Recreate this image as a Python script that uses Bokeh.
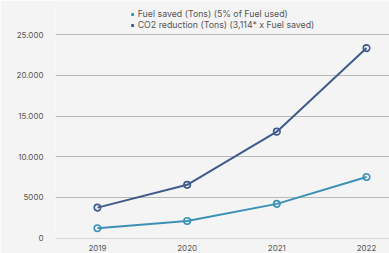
from bokeh.plotting import figure
from bokeh.models import Legend, LegendItem, FixedTicker, ColumnDataSource
from bokeh.embed import file_html
from bokeh.resources import INLINE

years = [2019, 2020, 2021, 2022]
fuel_saved = [1200, 2100, 4200, 7500]
co2_reduction = [3737, 6540, 13079, 23355]
y_ticks = [0, 5000, 10000, 15000, 20000, 25000]
y_tick_labels = ["0", "5000", "10.000", "15.000", "20.000", "25.000"]
series_names = ["Fuel saved (Tons) (5% of Fuel used)",
                "CO2 reduction (Tons) (3,114* x Fuel saved)"]

BG = "#f4f4f4"
C_FUEL = "#3a90b6"
C_CO2 = "#3f5a8c"
FONT = "Inter"

p = figure(width=389, height=253, output_backend="svg", toolbar_location=None,
           x_range=(2018.532, 2022.256), y_range=(-60, 29208),
           min_border_left=55, min_border_right=0, min_border_top=0,
           min_border_bottom=0)
p.background_fill_color = BG
p.border_fill_color = BG
p.outline_line_color = None

src = ColumnDataSource(dict(x=years, fuel=fuel_saved, co2=co2_reduction))

p.scatter("x", "fuel", source=src, size=6.5, line_color=C_FUEL, line_width=1.6, fill_color=BG)
p.scatter("x", "co2", source=src, size=6.5, line_color=C_CO2, line_width=1.6, fill_color=BG)
p.line("x", "fuel", source=src, line_color=C_FUEL, line_width=2)
p.line("x", "co2", source=src, line_color=C_CO2, line_width=2)

offscreen = ColumnDataSource(dict(x=[1900], y=[-99999]))
r1 = p.scatter("x", "y", source=offscreen, marker="square", size=4, color=C_FUEL)
r2 = p.scatter("x", "y", source=offscreen, marker="square", size=4, color=C_CO2)
legend = Legend(items=[LegendItem(label=series_names[0], renderers=[r1]),
                       LegendItem(label=series_names[1], renderers=[r2])],
                location="top_center", orientation="vertical")
legend.background_fill_alpha = 0
legend.border_line_color = None
legend.label_text_font = FONT
legend.label_text_font_size = "8.8px"
legend.label_text_color = "#555555"
legend.glyph_width = 5
legend.glyph_height = 8
legend.label_height = 8
legend.label_standoff = 3
legend.spacing = 0
legend.padding = 1
legend.margin = 8
p.add_layout(legend, "center")

p.xaxis.ticker = FixedTicker(ticks=years)
p.yaxis.ticker = FixedTicker(ticks=y_ticks)
p.yaxis.major_label_overrides = {t: l for t, l in zip(y_ticks, y_tick_labels)}
for ax in (p.xaxis, p.yaxis):
    ax.axis_line_color = None
    ax.major_tick_line_color = None
    ax.minor_tick_line_color = None
    ax.major_label_text_font = FONT
    ax.major_label_text_font_size = "8px"
    ax.major_label_text_color = "#555555"
p.yaxis.major_label_standoff = 6
p.xaxis.major_label_standoff = 0

p.xgrid.grid_line_color = None
p.ygrid.grid_line_color = "#b8b8b8"
p.ygrid.grid_line_width = 1

open("out.html", "w").write(file_html(p, INLINE))
